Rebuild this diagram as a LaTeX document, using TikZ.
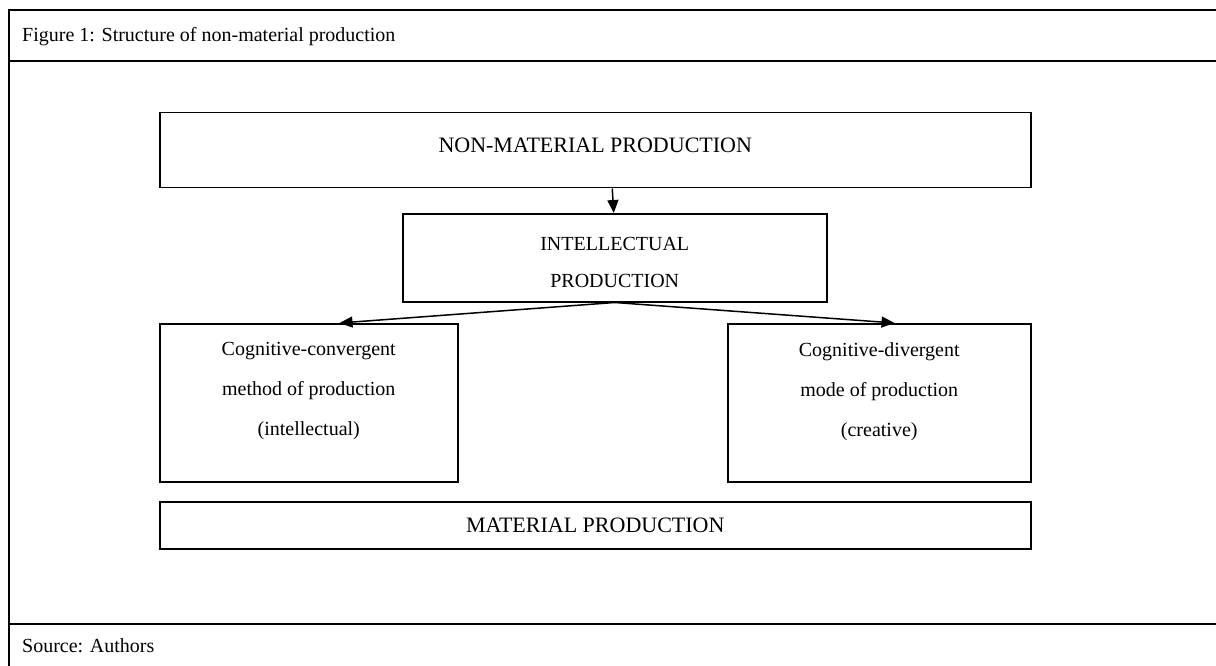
\documentclass[tikz,border=0pt]{standalone}
\usepackage{fontspec}
\setmainfont{Liberation Serif}
\usetikzlibrary{arrows.meta}
\tikzset{
  frameline/.style={line width=2pt},
  boxstyle/.style={draw, line width=1.5pt, rectangle, inner sep=0pt, anchor=north west},
  txt/.style={inner sep=0pt, align=center, font=\fontsize{20}{40}\selectfont},
  bigtxt/.style={inner sep=0pt, align=center, font=\fontsize{22}{26}\selectfont},
  arr/.style={line width=1.5pt, -{Triangle[length=13pt,width=11pt]}},
}
\begin{document}
\begin{tikzpicture}[x=1pt,y=-1pt]
\useasboundingbox (0,0) rectangle (1216,666);
% outer frame
\draw[frameline] (1222,10) -- (9,10) -- (9,672);
\draw[frameline] (9,61) -- (1222,61);
\draw[frameline] (9,624) -- (1222,624);
\node[txt, anchor=west, font=\fontsize{20}{24}\selectfont] (title) at (22,37) {Figure 1: Structure of non-material production};
\node[txt, anchor=west, font=\fontsize{20}{24}\selectfont] (src) at (22,646) {Source: Authors};
% boxes
\node[boxstyle, minimum width=871pt, minimum height=75pt] (nmp) at (159,112) {};
\node[bigtxt] (nmpt) at ([yshift=5pt]nmp.center) {NON-MATERIAL PRODUCTION};
\node[boxstyle, minimum width=424pt, minimum height=88pt] (ip) at (402,213) {};
\node[txt, font=\fontsize{20}{37}\selectfont] (ipt) at ([yshift=-5pt]ip.center) {INTELLECTUAL\\PRODUCTION};
\node[boxstyle, minimum width=298pt, minimum height=158pt] (lb) at (159,323) {};
\node[txt, anchor=north] (lbt) at ([yshift=-19pt]lb.north) {Cognitive-convergent\\method of production\\(intellectual)};
\node[boxstyle, minimum width=303pt, minimum height=158pt] (rb) at (727,323) {};
\node[txt, anchor=north] (rbt) at ([yshift=-19pt]rb.north) {Cognitive-divergent\\mode of production\\(creative)};
\node[boxstyle, minimum width=871pt, minimum height=47pt] (mp) at (159,501) {};
\node[bigtxt] (mpt) at (mp.center) {MATERIAL PRODUCTION};
% arrows
\coordinate (ipb) at (ip.south);
\coordinate (lt) at ([xshift=-119pt]lb.north east);
\coordinate (rt) at ([xshift=-137pt]rb.north east);
\draw[arr] ([xshift=17pt]nmp.south) -- ([xshift=-1pt]ip.north);
\draw[arr] (ipb) -- (lt);
\draw[arr] (ipb) -- (rt);
\end{tikzpicture}
\end{document}
